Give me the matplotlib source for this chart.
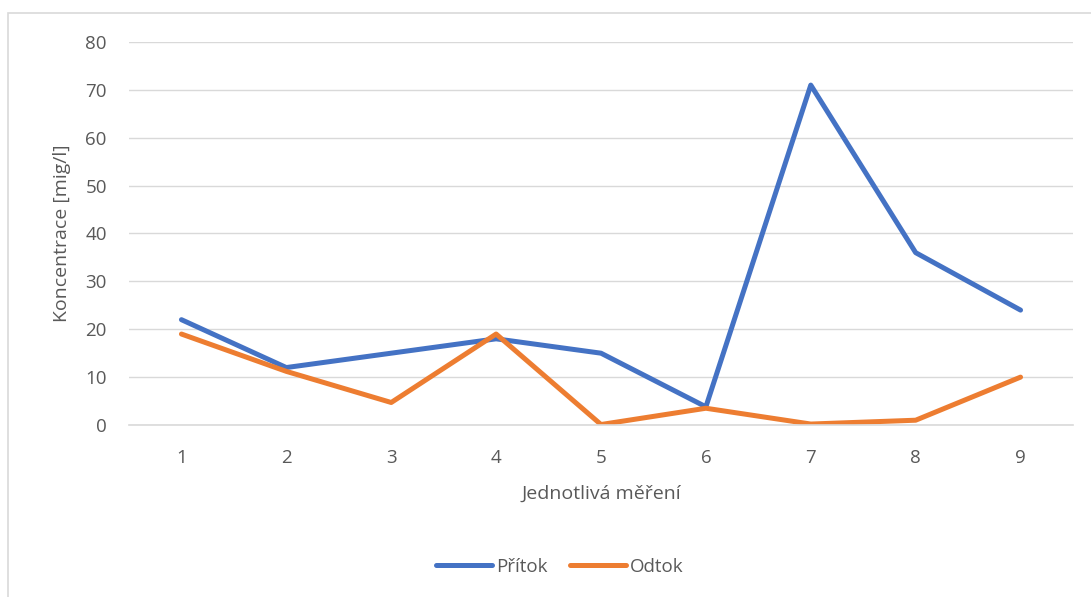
import matplotlib
matplotlib.use('Agg')
import matplotlib.pyplot as plt
from matplotlib.patches import Rectangle

# measurement index and concentrations
mereni = [1, 2, 3, 4, 5, 6, 7, 8, 9]
pritok = [22, 12, 15, 18, 15, 3.8, 71, 36, 24]
odtok = [19, 11.2, 4.7, 19, 0.1, 3.5, 0.2, 1, 10]
y_ticks = [0, 10, 20, 30, 40, 50, 60, 70, 80]

plt.rcParams['font.family'] = ['Open Sans', 'DejaVu Sans']
text_color = '#595959'

fig = plt.figure(figsize=(10.91, 5.97), dpi=100)
# light chart frame (only left and top edges visible in the crop)
fig.add_artist(Rectangle((8 / 1091, -0.1), 1.2, 1 - 13 / 597 + 0.1,
                         transform=fig.transFigure, fill=False,
                         edgecolor='#d9d9d9', linewidth=1.2))

ax = fig.add_axes([129 / 1091, 1 - 425 / 597, (1073 - 129) / 1091, (425 - 42) / 597])
ax.plot(mereni, pritok, color='#4472C4', linewidth=3.6, label='Přítok',
        solid_joinstyle='round', solid_capstyle='round')
ax.plot(mereni, odtok, color='#ED7D31', linewidth=3.6, label='Odtok',
        solid_joinstyle='round', solid_capstyle='round')

ax.set_xlim(0.5, 9.5)
ax.set_ylim(0, 80)
ax.set_yticks(y_ticks)
ax.set_xticks(mereni)
ax.grid(axis='y', color='#d9d9d9', linewidth=1)
ax.set_axisbelow(True)
for side in ['top', 'right', 'left']:
    ax.spines[side].set_visible(False)
ax.spines['bottom'].set_color('#d9d9d9')
ax.spines['bottom'].set_linewidth(1.2)
ax.tick_params(length=0, labelsize=13.5, colors=text_color)
ax.tick_params(axis='x', pad=17)
ax.tick_params(axis='y', pad=16)

ax.set_xlabel('Jednotlivá měření', fontsize=14, color=text_color, labelpad=13)
ax.set_ylabel('Koncentrace [mig/l]', fontsize=14, color=text_color, labelpad=10)

fig.legend(loc='center', bbox_to_anchor=(560 / 1091, 1 - 567 / 597), ncol=2,
           frameon=False, fontsize=13.5, labelcolor=text_color,
           handlelength=3, handletextpad=0.2, columnspacing=1.2)

fig.savefig('out.png', dpi=100)
